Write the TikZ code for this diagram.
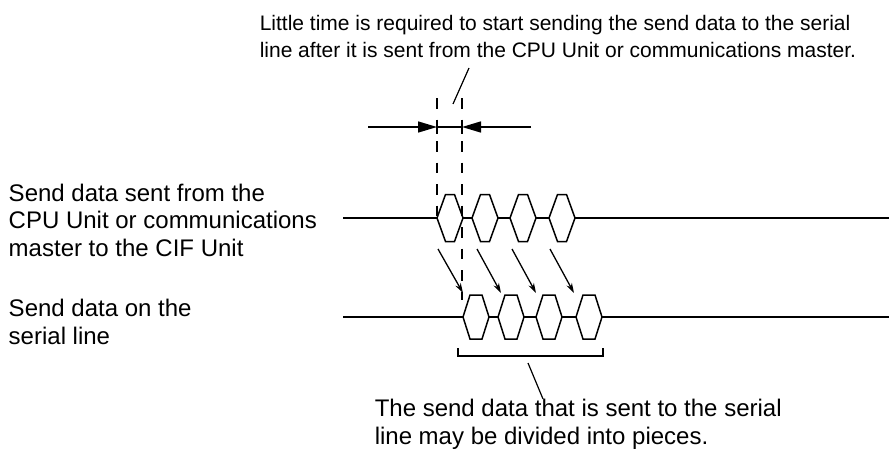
\documentclass[tikz,border=0pt]{standalone}
\usepackage{fontspec}
\setmainfont{Liberation Sans}
\usetikzlibrary{arrows.meta,positioning,calc}

\begin{document}
\begin{tikzpicture}[x=1pt, y=-1pt, line width=1.5pt,
	>={Triangle[length=19pt,width=11pt]},
	note/.style={align=left, inner sep=0pt, anchor=base west, font=\fontsize{24}{27.5}\selectfont},
	hexa/.style={draw, fill=white, line join=miter},
	guide/.style={dash pattern=on 10.5pt off 11pt},
	shift arrow/.style={-{Stealth[length=10pt,width=6pt]}, line width=1.3pt}
	]
	\useasboundingbox (0,0) rectangle (889,455);
	% Nodes (base = last line)
	\node[note, font=\fontsize{21}{27.5}\selectfont] (delay) at (259,57.5) {Little time is required to start sending the send data to the serial\\line after it is sent from the CPU Unit or communications master.};
	\node[note] (cif) at (8,256) {Send data sent from the\\CPU Unit or communications\\master to the CIF Unit};
	\node[note] (serial) at (8,344) {Send data on the\\serial line};
	\node[note] (pieces) at (374,444) {The send data that is sent to the serial\\line may be divided into pieces.};
	\coordinate (cifstart) at (343,218);
	\coordinate (cifend) at (889,218);
	\coordinate (serstart) at (343,317);
	\coordinate (serend) at (889,317);
	% Signal lines
	\draw (cifstart) -- (cifend);
	\draw (serstart) -- (serend);
	\foreach \l in {437,472,510,549}
	  \draw[hexa] (\l,218) -- ++(8.5,-23.5) -- ++(9,0) -- ++(8.5,23.5) -- ++(-8.5,23.5) -- ++(-9,0) -- cycle;
	\foreach \l in {463,498,536,576}
	  \draw[hexa] (\l,317) -- ++(7,-22) -- ++(12,0) -- ++(7,22) -- ++(-7,22) -- ++(-12,0) -- cycle;
	% Delay
	\coordinate (sendtop) at (437,98);
	\coordinate (sendbot) at (437,218);
	\coordinate (gaptop) at (462,98);
	\coordinate (gapbot) at (462,300);
	\draw[guide] (sendtop) -- (sendbot);
	\draw[guide] (gaptop) -- (gapbot);
	\coordinate (dimleft) at (368,127);
	\coordinate (dimright) at (531,127);
	\draw[->] (dimleft) -- (sendtop |- dimleft);
	\draw[->] (dimright) -- (gaptop |- dimright);
	\draw ($(sendtop |- dimleft)+(0,-7)$) -- ($(sendtop |- dimleft)+(0,7)$);
	\draw (sendtop |- dimleft) -- (gaptop |- dimleft);
	\draw ($(gaptop |- dimleft)+(0,-7)$) -- ($(gaptop |- dimleft)+(0,7)$);
	\coordinate (delaytip) at (453,104);
	\draw[line width=1.2pt] (469,68) coordinate (delayfoot) -- (delaytip);
	% Edges
	\foreach \s/\e in {438/463,477/501,512/536,550/574}
	  \draw[shift arrow] (\s,249) -- (\e,293);
	% Pieces
	\coordinate (brleft) at (458,348);
	\coordinate (brright) at (603,348);
	\draw (brleft) -- ++(0,8) -| (brright);
	\coordinate (piecestip) at (528,363);
	\draw[line width=1.2pt] (piecestip) -- (543,399) coordinate (piecesfoot);
\end{tikzpicture}
\end{document}
